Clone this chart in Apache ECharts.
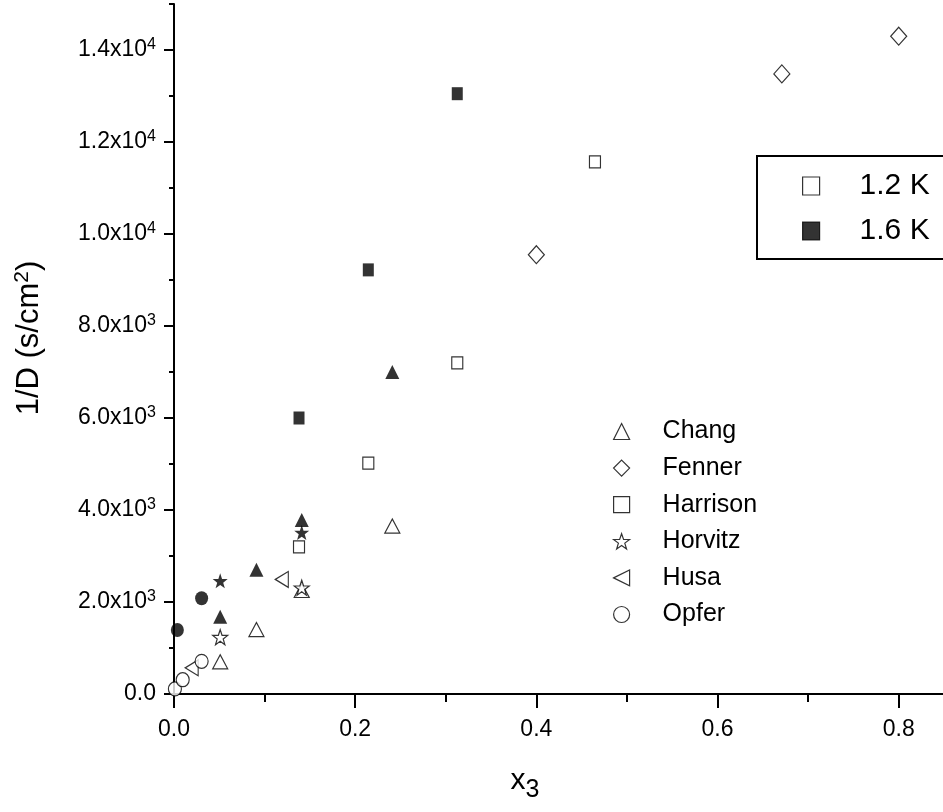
<!DOCTYPE html>
<html><head><meta charset="utf-8">
<script src="https://cdn.jsdelivr.net/npm/echarts@6/dist/echarts.min.js"></script>
<style>html,body{margin:0;padding:0;background:#fff}#c{width:943px;height:812px}</style>
</head><body><div id="c"></div>
<script>
// ---- tick definitions ----
const xTickValues = [0, 0.2, 0.4, 0.6, 0.8];
const xTickLabels = ['0.0', '0.2', '0.4', '0.6', '0.8'];
const xMinorTicks = [0.1, 0.3, 0.5, 0.7];
const yTickValues = [0, 2000, 4000, 6000, 8000, 10000, 12000, 14000];
const yTickLabels = ['0.0', '2.0x10^3', '4.0x10^3', '6.0x10^3', '8.0x10^3', '1.0x10^4', '1.2x10^4', '1.4x10^4'];
const yMinorTicks = [1000, 3000, 5000, 7000, 9000, 11000, 13000, 15000];

// ---- data: [x3, 1/D] ----
// 1.2 K (open symbols)
const chang12    = [[0.051, 700], [0.091, 1400], [0.141, 2250], [0.241, 3650]];
const fenner12   = [[0.400, 9550], [0.671, 13480], [0.800, 14300]];
const harrison12 = [[0.138, 3200], [0.2145, 5020], [0.3127, 7200], [0.4647, 11570]];
const horvitz12  = [[0.051, 1235], [0.141, 2310]];
const husa12     = [[0.0195, 570], [0.119, 2490]];
const opfer12    = [[0.001, 110], [0.0096, 310], [0.0305, 710]];
// 1.6 K (filled symbols)
const chang16    = [[0.051, 1680], [0.091, 2700], [0.141, 3780], [0.241, 7000]];
const harrison16 = [[0.138, 6000], [0.2145, 9220], [0.3127, 13050]];
const horvitz16  = [[0.051, 2460], [0.141, 3510]];
const opfer16    = [[0.0037, 1390], [0.0305, 2080]];

const authorNames = ['Chang', 'Fenner', 'Harrison', 'Horvitz', 'Husa', 'Opfer'];
const tempNames = ['1.2 K', '1.6 K'];

const FONT = '"Liberation Sans", Arial, Helvetica, sans-serif';
const STAR = 'path://M0,-10 L2.35,-3.24 L9.51,-3.09 L3.8,1.24 L5.88,8.09 L0,4 L-5.88,8.09 L-3.8,1.24 L-9.51,-3.09 L-2.35,-3.24 Z';
const LTRI = 'path://M0,5 L10,0 L10,10 Z';
const openStyle = { color: '#ffffff', borderColor: '#000000', borderWidth: 1.2 };
const fillStyle = { color: '#000000', borderColor: '#000000', borderWidth: 0 };

function sc(name, data, symbol, size, style) {
  return { type: 'scatter', name: name, data: data, symbol: symbol, symbolSize: size,
           itemStyle: style, xAxisIndex: 0, yAxisIndex: 0, emphasis: { disabled: true } };
}

const series = [
  sc(authorNames[0], chang12, 'triangle', [15, 14], openStyle),
  sc(authorNames[1], fenner12, 'diamond', [16, 18], openStyle),
  sc(authorNames[2], harrison12, 'rect', [11, 12], openStyle),
  sc(authorNames[3], horvitz12, STAR, [15, 15], openStyle),
  sc(authorNames[4], husa12, LTRI, [13, 16], openStyle),
  sc(authorNames[5], opfer12, 'circle', [13, 14], openStyle),
  sc('Chang 1.6 K', chang16, 'triangle', [14, 14], fillStyle),
  sc('Harrison 1.6 K', harrison16, 'rect', [11, 13], fillStyle),
  sc('Horvitz 1.6 K', horvitz16, STAR, [15, 15], fillStyle),
  sc('Opfer 1.6 K', opfer16, 'circle', [13, 14], fillStyle),
  sc(tempNames[0], [], 'rect', [12, 12], openStyle),
  sc(tempNames[1], [], 'rect', [12, 12], fillStyle)
];

function yLabel(v) {
  const i = yTickValues.indexOf(v);
  if (i < 0) return '';
  const parts = yTickLabels[i].split('^');
  return parts.length > 1 ? parts[0] + '{sup|' + parts[1] + '}' : parts[0];
}
function xLabel(v) {
  const i = xTickValues.findIndex(t => Math.abs(t - v) < 1e-9);
  return i < 0 ? '' : xTickLabels[i];
}

const chart = echarts.init(document.getElementById('c'), null, { renderer: 'canvas' });
chart.setOption({
  animation: false,
  backgroundColor: '#ffffff',
  textStyle: { fontFamily: FONT, color: '#000' },
  grid: { left: 174, top: 4, right: -1, bottom: 118, containLabel: false, outerBoundsMode: 'none' },
  xAxis: [{
    type: 'value', min: 0, max: 0.85, position: 'bottom',
    name: 'x{sub|3}', nameLocation: 'middle', nameGap: 64, nameMoveOverlap: false,
    nameTextStyle: { fontFamily: FONT, fontSize: 30, color: '#000', padding: [0, 68, 0, 0],
      rich: { sub: { fontFamily: FONT, fontSize: 25, color: '#000', verticalAlign: 'bottom', padding: [20, 0, 0, 0] } } },
    axisLine: { show: true, onZero: false, lineStyle: { color: '#000', width: 2 } },
    axisTick: { show: true, inside: false, length: 14, customValues: xTickValues, lineStyle: { color: '#000', width: 2 } },
    axisLabel: { show: true, customValues: xTickValues, formatter: xLabel, margin: 24,
      fontFamily: FONT, fontSize: 23, color: '#000' },
    splitLine: { show: false }, minorTick: { show: false }
  }, {
    type: 'value', min: 0, max: 0.85, position: 'bottom', offset: 0,
    axisLine: { show: false, onZero: false },
    axisTick: { show: true, inside: false, length: 8, customValues: xMinorTicks, lineStyle: { color: '#000', width: 2 } },
    axisLabel: { show: false }, splitLine: { show: false }
  }],
  yAxis: [{
    type: 'value', min: 0, max: 15000, position: 'left',
    name: '1/D (s/cm{sup|2})', nameLocation: 'middle', nameGap: 128, nameRotate: 90, nameMoveOverlap: false,
    nameTextStyle: { fontFamily: FONT, fontSize: 31, color: '#000', padding: [0, 0, 0, 22],
      rich: { sup: { fontFamily: FONT, fontSize: 21, color: '#000', verticalAlign: 'bottom', padding: [0, 0, 13, 0] } } },
    axisLine: { show: true, onZero: false, lineStyle: { color: '#000', width: 2 } },
    axisTick: { show: true, inside: false, length: 10, customValues: yTickValues, lineStyle: { color: '#000', width: 2 } },
    axisLabel: { show: true, customValues: yTickValues, formatter: yLabel, margin: 18,
      fontFamily: FONT, fontSize: 23, color: '#000',
      rich: { sup: { fontFamily: FONT, fontSize: 16, color: '#000', verticalAlign: 'bottom', padding: [0, 0, 10, 0] } } },
    splitLine: { show: false }, minorTick: { show: false }
  }, {
    type: 'value', min: 0, max: 15000, position: 'left', offset: 0,
    axisLine: { show: false, onZero: false },
    axisTick: { show: true, inside: false, length: 5, customValues: yMinorTicks, lineStyle: { color: '#000', width: 2 } },
    axisLabel: { show: false }, splitLine: { show: false }
  }],
  legend: [{
    data: tempNames, orient: 'vertical', left: 757, top: 156,
    padding: [15, 15, 13, 45], itemGap: 15, itemWidth: 17, itemHeight: 18,
    borderColor: '#000', borderWidth: 2, borderRadius: 0, selectedMode: false,
    itemStyle: { borderWidth: 1.2 },
    textStyle: { fontFamily: FONT, fontSize: 30, color: '#000', padding: [0, 0, 0, 35] }
  }, {
    data: authorNames, orient: 'vertical', left: 613, top: 419,
    padding: 0, itemGap: 11.6, itemWidth: 16, itemHeight: 16, selectedMode: false,
    itemStyle: { borderWidth: 1.2 },
    textStyle: { fontFamily: FONT, fontSize: 25, color: '#000', padding: [0, 0, 0, 28] }
  }],
  series: series
});
</script>
</body></html>
